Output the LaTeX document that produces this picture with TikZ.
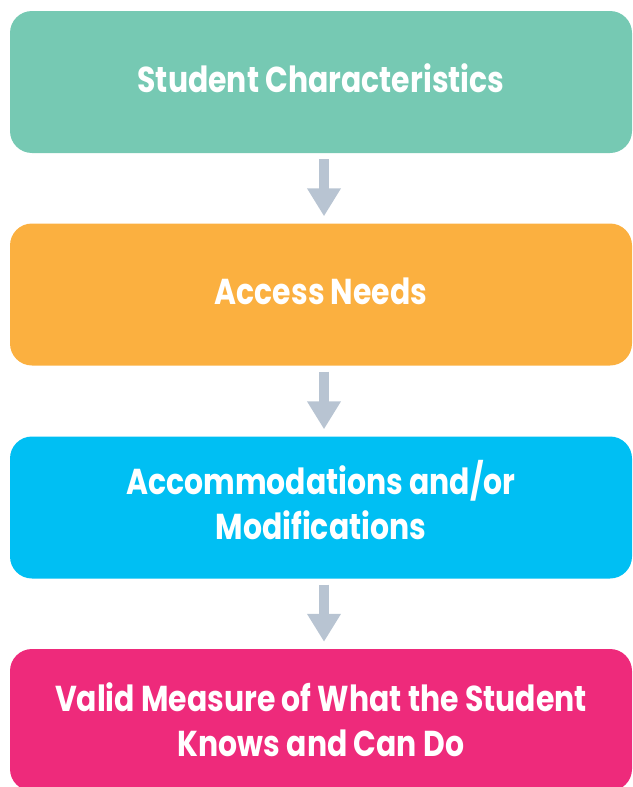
\documentclass[tikz,border=0pt]{standalone}
\usepackage{fontspec}
\setmainfont{Poppins}[FakeStretch=0.83]
\usepackage{tikz}
\usetikzlibrary{arrows.meta,positioning}

\definecolor{traitgreen}{RGB}{118,201,179}
\definecolor{needorange}{RGB}{251,176,64}
\definecolor{accomblue}{RGB}{0,191,243}
\definecolor{measurepink}{RGB}{238,42,123}
\definecolor{arrowgray}{RGB}{184,196,210}

\tikzset{
  stepbox/.style={rounded corners=22pt, minimum width=622pt, minimum height=142pt,
    inner sep=0pt, text=white, align=center, text depth=7pt,
    font=\fontsize{36}{45}\selectfont\bfseries},
  flowarrow/.style={draw=arrowgray, line width=10pt,
    -{Triangle[width=32pt,length=28pt]}, shorten <=6pt, shorten >=7pt}
}

\begin{document}
\begin{tikzpicture}[x=1pt,y=1pt]
    \useasboundingbox (0,0) rectangle (632,-787);

    \node [stepbox, fill=traitgreen] (traits) at (321,-82) {Student Characteristics};
    \node [stepbox, fill=needorange] (needs) at (321,-294.5) {Access Needs};
    \node [stepbox, fill=accomblue, text depth=15pt] (accom) at (321,-507.5) {Accommodations and/or\\Modifications};
    \node [stepbox, fill=measurepink, text depth=0pt] (measure) at (321,-720) {Valid Measure of What the Student\\Knows and Can Do};

    \draw [flowarrow] ([xshift=3pt]traits.south) -- ([xshift=3pt]needs.north);
    \draw [flowarrow] ([xshift=3pt]needs.south) -- ([xshift=3pt]accom.north);
    \draw [flowarrow] ([xshift=3pt]accom.south) -- ([xshift=3pt]measure.north);
  \end{tikzpicture}
\end{document}
